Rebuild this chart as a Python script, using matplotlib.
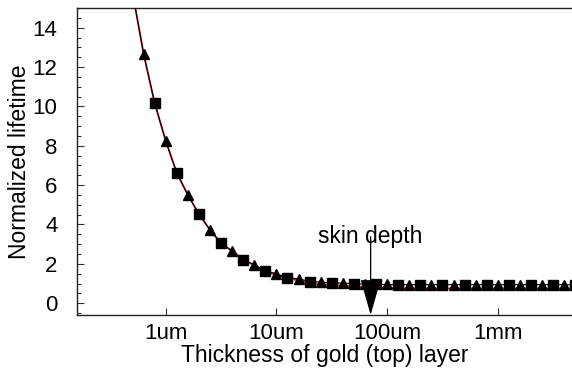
import numpy as np
import matplotlib
matplotlib.use("Agg")
import matplotlib.pyplot as plt
from matplotlib.ticker import FixedLocator, FixedFormatter, MultipleLocator, NullLocator

plt.rcParams['font.family'] = ['Liberation Sans', 'DejaVu Sans']

# Thickness (um) of triangle markers and values
tri_um = [0.631, 1.0, 1.585, 2.512, 3.981, 6.31, 10.0, 15.85, 25.12, 39.81, 63.1,
          100.0, 158.5, 251.2, 398.1, 631.0, 1000.0, 1585.0, 2512.0, 3981.0]
tri_val = [12.68, 8.25, 5.5, 3.72, 2.65, 1.95, 1.5, 1.24, 1.08, 1.02, 0.97,
           0.95, 0.94, 0.94, 0.94, 0.94, 0.94, 0.94, 0.94, 0.94]

# Thickness (um) of square markers and values
sq_um = [0.794, 1.259, 1.995, 3.162, 5.012, 7.943, 12.59, 19.95, 31.62, 50.12, 79.43,
         125.9, 199.5, 316.2, 501.2, 794.3, 1259.0, 1995.0, 3162.0, 5012.0]
sq_val = [10.18, 6.62, 4.53, 3.05, 2.22, 1.64, 1.29, 1.1, 1.03, 0.99, 0.95,
          0.94, 0.94, 0.94, 0.94, 0.94, 0.94, 0.94, 0.94, 0.94]

# red reference curve (um, value)
red_um = [0.501, 0.631, 0.794, 1.0, 1.259, 1.585, 1.995, 2.512, 3.162, 3.981, 5.012,
          6.31, 7.943, 10.0, 12.59, 15.85, 19.95, 25.12, 31.62, 39.81, 50.12, 63.1,
          79.43, 100.0, 158.5, 251.2, 398.1, 631.0, 1000.0, 1585.0, 2512.0, 3981.0, 5012.0]
red_val = [15.8, 12.68, 10.18, 8.25, 6.62, 5.5, 4.53, 3.72, 3.05, 2.65, 2.22,
           1.93, 1.6, 1.45, 1.25, 1.17, 1.03, 0.97, 0.92, 0.88, 0.84, 0.81,
           0.79, 0.77, 0.75, 0.75, 0.75, 0.75, 0.75, 0.75, 0.75, 0.75, 0.75]

xtick_m = [1e-6, 1e-5, 1e-4, 1e-3]
xtick_labels = ['1um', '10um', '100um', '1mm']
skin_depth_m = 71e-6
skin_label_y = 3.05

xlim = (1.58e-7, 4.68e-3)
ylim = (-0.6, 15.0)

fig = plt.figure(figsize=(5.72, 3.74), dpi=100)
ax = fig.add_axes([77/572, 59/374, 1 - 77/572, (315 - 8)/374])

tri_m = np.array(tri_um) * 1e-6
sq_m = np.array(sq_um) * 1e-6
red_m = np.array(red_um) * 1e-6

# black line through all data (sorted)
all_m = np.concatenate([[red_m[0]], tri_m, sq_m])
all_v = np.concatenate([[red_val[0]], tri_val, sq_val])
order = np.argsort(all_m)

ax.plot(red_m, red_val, color='#e8141c', lw=1.3, zorder=2)
ax.plot(all_m[order], all_v[order], color='black', lw=0.8, zorder=3)
ax.plot(tri_m, tri_val, linestyle='none', marker='^', ms=6.5, color='black', zorder=4)
ax.plot(sq_m, sq_val, linestyle='none', marker='s', ms=7, color='black', zorder=4)

ax.set_xscale('log')
ax.set_xlim(*xlim)
ax.set_ylim(*ylim)

ax.xaxis.set_major_locator(FixedLocator(xtick_m))
ax.xaxis.set_major_formatter(FixedFormatter(xtick_labels))
ax.xaxis.set_minor_locator(NullLocator())
ax.yaxis.set_major_locator(MultipleLocator(2))
ax.yaxis.set_minor_locator(MultipleLocator(0.5))

ax.tick_params(axis='both', which='both', direction='in', labelsize=16,
               top=False, right=False, width=0.8, color='#333333')
ax.tick_params(axis='x', which='major', length=5, pad=6)
ax.tick_params(axis='y', which='major', length=5, pad=14)
ax.tick_params(axis='y', which='minor', length=3)

ax.spines['right'].set_visible(False)
for s in ['left', 'bottom', 'top']:
    ax.spines[s].set_linewidth(1.0)
    ax.spines[s].set_color('#222222')

ax.set_xlabel('Thickness of gold (top) layer', fontsize=16.5, labelpad=0)
ax.set_ylabel('Normalized lifetime', fontsize=16.5, labelpad=1)

ax.annotate('skin depth', xy=(skin_depth_m, ylim[0]), xytext=(skin_depth_m, skin_label_y),
            ha='center', va='baseline', fontsize=16.5,
            arrowprops=dict(arrowstyle='-|>,head_length=2.3,head_width=0.65',
                            mutation_scale=10, color='black', lw=0.9,
                            shrinkA=0, shrinkB=0, patchA=None),
            zorder=5)

fig.savefig('out.png', dpi=100)
